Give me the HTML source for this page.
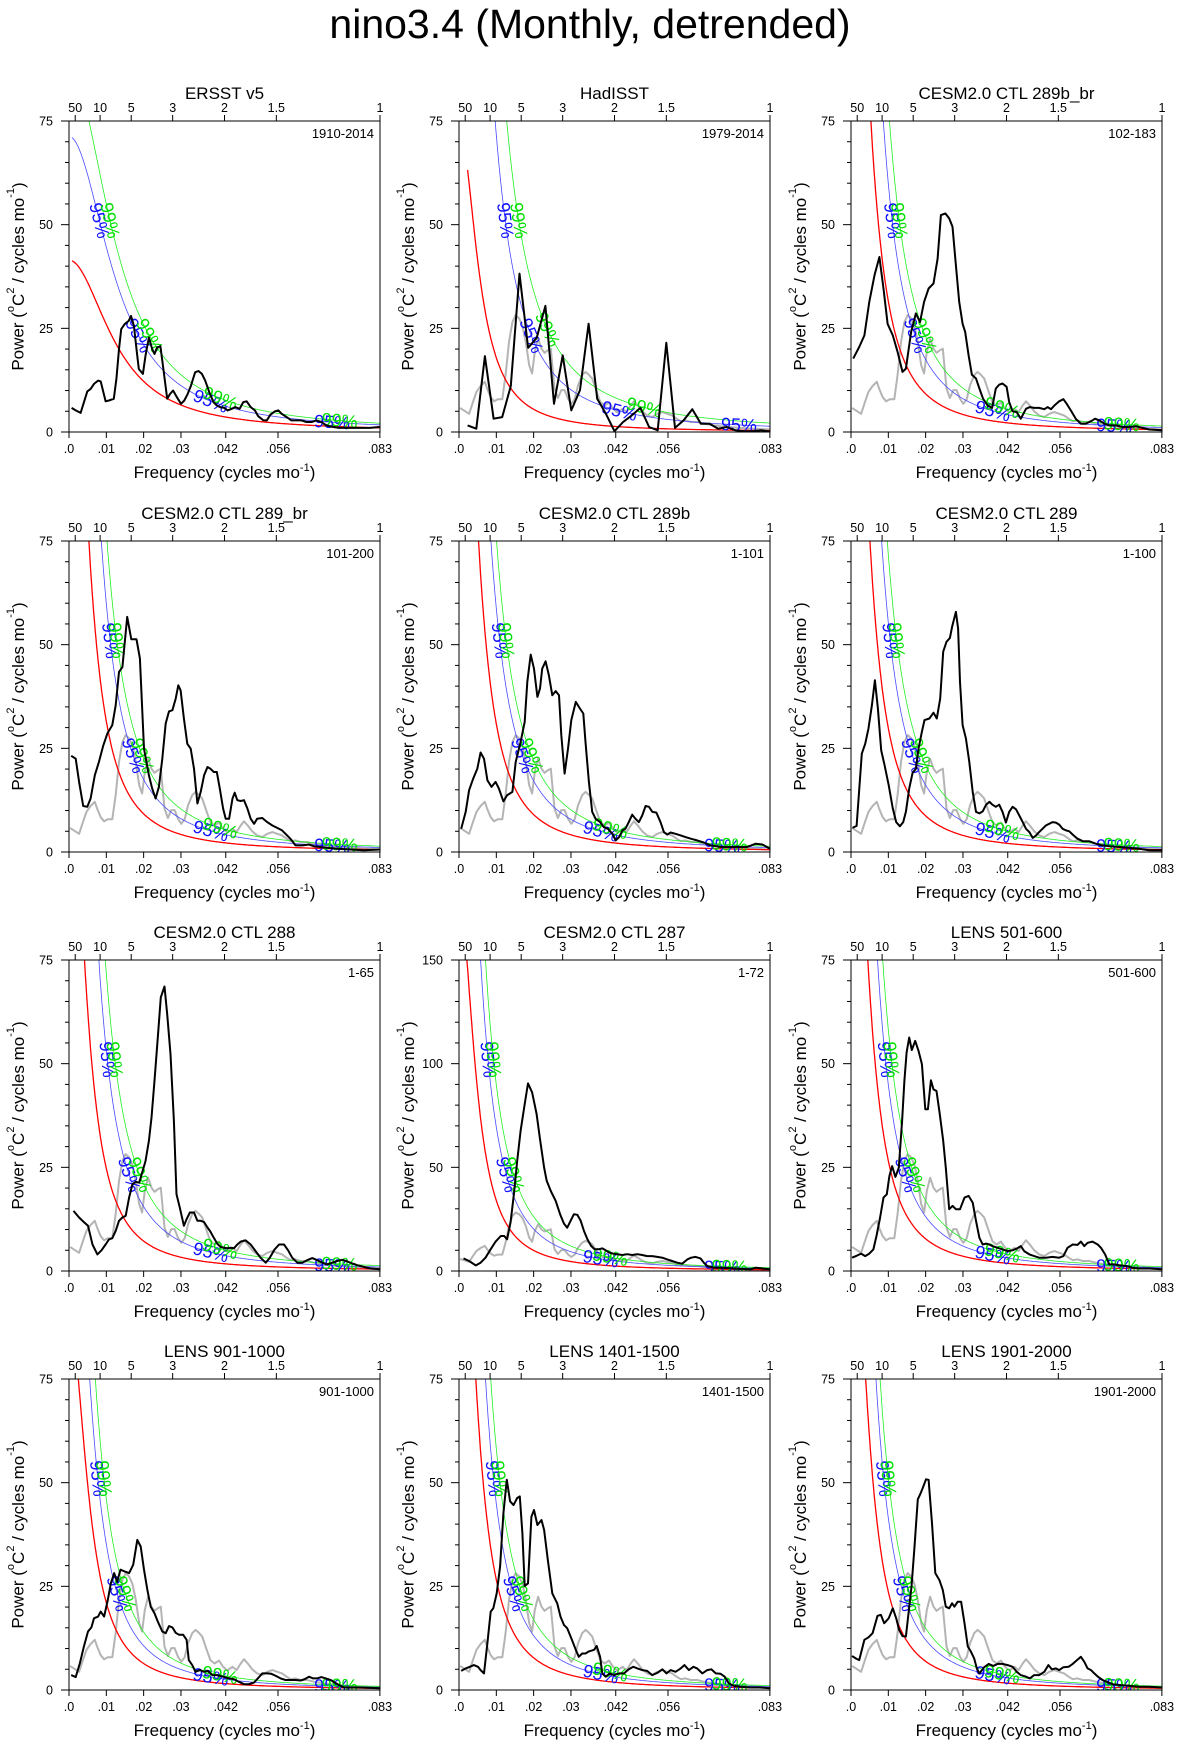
<!DOCTYPE html>
<html>
<head>
<meta charset="utf-8">
<style>
html,body{margin:0;padding:0;background:#fff;}
svg{display:block;}
text{font-family:"Liberation Sans",Arial,sans-serif;}
</style>
</head>
<body>
<svg id="fig" width="1181" height="1748" viewBox="0 0 1181 1748" xmlns="http://www.w3.org/2000/svg">
<text x="590" y="38" font-size="41" text-anchor="middle">nino3.4 (Monthly, detrended)</text>
</svg>
<script>
// ---------- data (frequency in 1e-3 cycles/mo, power in degC^2/(cycles/mo)) ----------
const panelTitles = ["ERSST v5","HadISST","CESM2.0 CTL 289b_br","CESM2.0 CTL 289_br","CESM2.0 CTL 289b","CESM2.0 CTL 289","CESM2.0 CTL 288","CESM2.0 CTL 287","LENS 501-600","LENS 901-1000","LENS 1401-1500","LENS 1901-2000"];
const panelPeriods = ["1910-2014","1979-2014","102-183","101-200","1-101","1-100","1-65","1-72","501-600","901-1000","1401-1500","1901-2000"];
const yMaxes = [75,75,75,75,75,75,75,150,75,75,75,75];
const redLag1 = [0.922,0.965,0.97,0.97,0.97,0.97,0.97,0.97,0.97,0.966,0.97,0.97];
const redAt0152 = [17.4,9.0,15.3,15.3,15.0,14.5,12.0,16.5,12.9,10.5,12.9,11.5];
const blueFactor = [1.72,4.0,1.9,1.9,1.9,1.85,2.15,2.04,1.69,1.67,1.69,1.75];
const greenFactor = [2.12,6.2,2.5,2.45,2.45,2.4,2.9,2.64,2.19,2.19,2.19,2.16];
const curveStart = [0.8,2.3,0.4,0.4,0.4,0.4,0.4,0.4,0.4,0.4,0.4,0.4];
const xTickValues = [0,0.01,0.02,0.03,0.042,0.056,0.0833];
const xTickLabels = [".0",".01",".02",".03",".042",".056",".083"];
const periodTicks = [50,10,5,3,2,1.5,1];
const periodLabels = ["50","10","5","3","2","1.5","1"];

const grayFreq = [0.3,1.3,2.7,3.8,4.7,5.8,6.9,7.6,8.5,9.4,10.4,11.6,12.5,13.4,14.3,15.2,16.1,17.0,17.9,18.8,19.6,20.3,21.2,22.1,22.9,23.8,24.6,25.6,26.5,27.4,28.3,29.2,30.1,31.0,31.9,33.0,33.9,34.8,35.7,36.9,37.9,39.0,40.2,41.3,42.4,43.8,44.9,46.0,46.9,47.9,49.1,50.4,51.8,53.1,54.5,55.8,57.1,58.3,59.4,60.7,62.1,63.8,65.6,68.3,71.9,75.4,79.0,83.3];
const grayPower = [5.8,5.2,4.4,7.4,9.7,11.1,12.1,10.3,8.4,7.4,7.9,7.9,13.8,21.7,26.5,28.2,27.4,25.6,21.7,16.1,14.1,19.3,22.5,20.1,19.1,19.7,20.1,10.5,8.2,10.1,10.1,8.0,6.8,7.9,11.3,13.7,14.5,13.8,12.9,9.7,7.2,6.4,7.1,5.6,4.7,5.6,4.8,6.4,7.4,6.4,5.0,4.0,3.6,4.4,4.8,4.4,4.0,3.2,2.6,2.8,2.4,2.4,2.0,1.6,1.2,1.0,0.8,0.6];

const p1Freq = [0.7,1.8,3.1,4.9,5.8,6.7,7.8,8.5,9.8,10.7,12.0,12.7,13.4,14.0,14.9,16.0,16.6,17.4,18.1,18.7,19.8,20.5,21.4,22.3,22.9,23.6,24.5,25.4,26.3,27.1,27.9,28.9,30.0,30.9,31.8,32.7,33.8,34.7,35.6,36.5,37.6,38.7,39.6,40.5,41.6,42.5,43.6,44.5,45.7,46.7,47.6,48.7,49.8,50.7,52.1,53.0,54.0,55.2,56.1,57.0,58.3,59.6,61.0,62.3,63.6,65.0,66.3,67.6,69.0,70.8,72.5,75.2,77.9,80.6,83.2];
const p1Power = [5.8,5.2,4.6,9.8,10.4,11.6,12.4,12.2,7.4,7.6,8.0,12.8,20.0,24.8,26.0,26.8,28.0,25.6,20.0,15.2,14.0,18.4,22.8,20.0,18.8,20.4,20.7,14.4,8.0,9.2,10.0,8.4,6.8,7.6,9.2,11.2,14.4,14.7,14.0,12.4,9.6,7.2,6.4,6.0,5.8,5.2,5.6,6.0,5.6,7.2,7.4,6.0,5.2,3.8,2.8,2.8,4.2,5.0,5.2,4.4,3.6,2.8,2.8,2.8,2.4,2.4,2.8,2.4,1.6,1.2,1.0,1.0,1.0,1.0,1.2];

const p2Freq = [2.31,4.63,6.94,9.26,11.57,13.89,16.20,18.52,20.83,23.15,25.46,27.78,30.09,32.41,34.72,37.04,39.35,41.67,43.98,46.30,48.61,50.93,53.24,55.56,57.87,60.19,62.50,64.81,67.13,69.44,71.76,74.07,76.39,78.70,81.02,83.33];
const p2Power = [1.6,0.8,18.3,3.2,3.6,11.1,38.2,20.3,22.7,30.4,6.8,18.5,5.2,10.1,26.1,8.0,4.4,0.2,2.4,4.0,5.8,1.2,0.4,21.5,1.0,2.8,5.5,2.0,2.0,0.8,1.2,0.4,0.2,0.2,0.4,0.1];

const p3Freq = [0.6,2.2,3.6,4.9,6.3,7.6,8.7,9.8,11.2,12.5,13.8,14.7,16.1,17.4,18.5,19.6,20.8,22.1,23.2,24.1,25.3,26.3,27.2,28.1,29.0,29.9,30.6,31.5,32.4,33.5,34.4,35.4,36.6,37.8,38.8,39.7,40.6,41.7,42.4,43.3,44.4,45.5,46.9,47.9,49.1,50.4,51.8,52.7,53.6,54.5,55.8,56.9,57.8,58.9,60.3,61.6,62.9,64.3,65.4,66.5,67.9,69.2,71.0,72.8,74.6,76.3,78.1,79.9,83.3];
const p3Power = [17.7,20.5,23.3,31.4,37.8,42.2,34.6,26.1,23.3,19.3,14.5,15.3,24.1,28.6,26.5,31.4,34.6,35.8,41.8,52.3,52.7,51.5,49.5,40.2,31.4,26.1,24.1,18.5,13.8,12.9,10.5,8.0,6.4,5.8,10.5,11.4,11.7,10.9,7.2,5.0,4.8,3.2,5.6,6.0,5.8,5.8,5.5,6.0,5.5,6.4,7.4,7.9,6.8,5.2,3.1,2.0,2.0,2.6,3.2,2.8,2.0,1.6,1.6,1.2,1.2,1.4,1.0,0.6,0.4];

const p4Freq = [0.6,1.8,2.7,3.8,4.9,5.8,6.9,8.0,9.2,10.3,11.6,12.5,13.4,14.3,15.6,16.7,18.1,19.0,20.1,21.4,22.3,23.2,24.1,25.0,25.9,26.8,27.7,28.6,29.3,29.9,30.8,31.7,32.6,33.5,34.4,35.3,36.2,37.1,37.9,38.8,39.6,40.4,41.3,42.0,42.9,43.8,44.4,45.1,46.0,46.9,47.8,48.7,49.6,50.4,51.8,53.1,54.5,55.8,57.1,58.0,59.4,60.7,62.5,64.3,65.6,67.4,69.2,71.9,75.4,79.0,83.3];
const p4Power = [23.2,22.5,16.9,11.1,10.9,12.9,18.5,21.7,25.7,28.6,30.6,35.4,43.4,44.6,56.7,51.3,51.3,46.7,24.9,18.5,15.3,12.9,15.7,22.5,31.0,33.9,34.2,37.0,40.2,39.0,32.2,26.1,24.9,20.1,11.7,14.5,18.5,20.5,20.1,19.3,19.3,15.3,10.5,8.0,8.0,12.9,14.3,12.5,12.3,12.5,10.5,8.0,6.8,8.0,8.2,7.2,6.4,5.8,5.2,4.4,3.1,1.6,1.6,1.8,1.4,1.2,1.0,0.8,0.6,0.4,0.6];

const p5Freq = [0.6,1.8,2.7,3.8,4.9,5.8,6.7,7.6,8.7,9.8,10.7,11.9,12.9,14.3,15.2,16.5,17.6,18.3,19.2,20.1,21.0,21.7,22.3,23.2,24.1,25.0,25.9,26.8,27.4,28.3,29.2,30.1,31.3,32.4,33.3,33.9,34.8,35.7,36.6,37.8,38.8,39.9,41.1,42.0,42.9,43.8,44.6,45.5,46.4,47.3,48.2,49.1,50.0,50.9,51.8,52.9,54.0,54.9,55.8,56.7,58.0,59.4,60.7,62.1,63.8,65.6,67.4,70.1,72.8,75.4,77.2,79.5,81.3,83.3];
const p5Power = [5.6,9.7,14.9,17.7,20.1,24.0,22.5,17.3,15.7,16.9,15.3,12.2,13.7,14.5,21.7,26.5,31.4,41.0,47.6,44.2,37.4,39.4,44.2,46.0,42.6,37.8,38.8,37.8,28.2,18.9,24.9,31.8,36.2,34.6,33.4,26.5,16.9,9.7,8.0,7.2,6.0,5.6,4.4,2.8,3.6,5.2,5.6,7.2,9.0,8.0,7.2,8.8,11.1,10.9,9.7,9.5,7.2,4.8,4.2,4.7,4.4,4.0,3.6,3.2,2.8,2.3,1.6,1.2,1.2,1.2,1.2,2.0,1.8,0.8];

const p6Freq = [0.4,1.5,2.9,3.8,4.7,5.6,6.4,7.2,8.1,9.0,10.1,11.2,12.1,13.1,14.0,14.7,15.6,16.5,17.4,18.1,19.0,19.7,21.0,22.1,23.0,23.9,24.7,25.6,26.5,27.1,28.1,28.7,29.2,29.9,30.8,31.7,32.6,33.5,34.4,35.3,36.2,37.1,37.9,38.8,39.7,40.6,41.5,42.4,43.3,44.2,45.1,46.0,46.9,47.8,48.7,49.6,50.4,51.3,52.2,53.1,54.0,54.9,55.8,56.7,57.6,58.5,59.4,60.7,62.1,63.8,65.6,67.4,69.2,71.9,74.6,77.2,79.9,83.3];
const p6Power = [5.8,6.3,23.7,26.1,29.8,35.4,41.4,34.6,24.5,20.9,16.1,10.5,7.2,6.2,7.2,9.7,15.3,19.1,20.1,24.9,29.0,31.8,32.2,33.6,32.2,37.0,48.3,50.7,51.6,54.3,57.9,53.9,41.0,30.6,27.4,21.7,14.5,9.7,9.3,9.8,11.4,12.1,11.4,10.9,11.4,9.7,7.1,9.7,10.9,10.3,8.8,7.2,5.6,4.8,3.4,4.0,4.8,5.6,6.4,6.8,7.2,7.1,6.6,5.6,5.2,5.0,4.2,3.2,2.6,2.6,2.0,1.6,1.4,1.2,1.0,0.8,0.4,0.4];

const p7Freq = [1.2,2.7,4.0,5.1,6.3,7.6,8.7,9.8,10.7,11.6,12.5,13.4,14.3,15.2,16.1,17.0,17.9,18.8,19.6,20.5,21.4,22.1,22.9,23.8,24.6,25.6,26.3,27.2,28.1,28.8,29.7,30.8,31.5,32.4,33.5,34.4,35.3,36.2,37.1,37.9,38.8,39.7,40.6,41.5,42.4,43.3,44.2,45.1,46.0,47.3,48.7,50.0,51.3,52.7,53.8,55.1,56.3,57.6,58.7,59.8,61.2,62.5,63.8,65.2,66.5,67.9,69.2,70.5,71.9,73.2,74.6,75.9,77.2,79.0,80.8,83.3];
const p7Power = [14.5,12.9,11.8,10.9,6.4,4.0,5.0,6.4,7.6,7.9,9.7,12.1,12.9,13.3,17.7,20.9,21.5,21.3,23.7,26.5,31.4,37.0,45.9,56.3,66.0,68.6,61.9,52.3,36.2,18.5,15.3,10.9,12.5,14.1,14.1,12.1,12.1,11.8,10.5,9.5,8.0,6.6,5.8,5.6,5.5,5.6,5.5,6.4,7.1,7.4,6.4,4.8,3.2,2.0,3.2,5.2,6.4,6.4,5.0,3.2,2.0,2.0,2.6,3.1,2.6,2.0,1.6,2.0,2.4,2.7,2.3,1.8,1.4,1.0,0.6,0.4];

const p8Freq = [1.2,2.7,4.5,5.8,7.1,8.5,9.8,11.2,12.1,12.9,13.8,14.7,15.6,16.5,17.6,18.5,19.6,20.8,21.7,22.8,23.5,24.6,25.9,27.1,28.1,29.0,29.9,30.8,31.7,32.6,33.5,34.4,35.4,36.3,37.5,38.4,39.3,40.2,41.3,42.4,43.8,45.1,46.4,47.8,49.1,50.4,51.8,53.1,54.5,55.8,57.1,58.5,59.8,61.2,62.2,63.4,64.7,65.6,66.5,68.3,70.1,72.8,75.4,78.1,79.5,80.8,83.3];
const p8Power = [6.1,4.8,2.7,4.0,6.4,10.5,14.2,16.9,16.9,15.3,23.3,37.0,53.1,67.6,80.5,90.5,86.2,75.7,63.6,49.9,43.5,38.6,33.8,27.4,22.9,20.9,24.2,27.4,27.1,24.2,19.3,15.3,12.1,10.5,10.5,10.9,10.0,8.9,8.4,8.1,7.7,8.1,7.7,8.1,7.7,7.2,7.2,6.8,6.4,5.6,4.8,4.0,3.5,5.6,6.4,6.8,6.1,4.0,2.4,1.6,1.6,1.3,1.0,0.8,1.6,1.3,0.8];

const p9Freq = [0.3,1.3,2.7,3.8,4.9,6.0,6.9,7.8,8.7,9.6,10.3,11.0,11.9,12.8,13.7,14.3,14.9,15.6,16.3,17.2,18.1,19.0,19.9,20.6,21.4,22.1,22.9,23.8,24.7,25.4,26.3,27.2,28.1,29.2,30.4,31.5,32.6,33.5,34.4,35.3,36.2,37.1,37.9,39.3,40.6,42.0,43.3,44.4,45.5,46.4,47.8,49.1,50.4,52.2,54.0,55.8,56.9,58.0,59.4,60.7,61.6,62.5,63.4,64.7,66.1,67.0,68.1,69.2,70.5,71.9,73.7,75.4,77.2,79.9,83.3];
const p9Power = [3.2,3.6,4.2,3.6,4.2,5.2,8.8,12.9,17.7,18.5,22.9,25.3,22.7,24.9,36.2,45.9,52.7,56.3,53.3,55.5,53.1,49.9,39.0,39.0,46.0,43.8,43.4,37.8,31.4,24.9,14.9,15.7,14.9,14.9,17.7,18.1,16.5,12.1,8.0,6.4,6.6,6.4,6.0,5.6,5.2,4.8,5.0,5.4,6.0,4.8,4.0,3.6,3.2,3.2,3.4,3.2,3.6,5.6,6.4,6.3,7.1,6.0,6.8,7.1,6.4,5.6,4.0,1.6,1.6,1.4,1.2,0.8,0.6,0.6,0.4];

const p10Freq = [0.6,1.8,2.9,4.0,5.1,6.0,6.7,7.8,8.5,9.4,10.4,11.2,12.1,12.9,13.8,14.9,16.1,17.2,18.3,19.2,20.1,21.0,21.9,22.9,23.8,25.0,25.9,26.8,27.7,28.6,29.5,30.6,31.5,32.1,33.0,33.9,35.1,36.2,37.2,38.4,39.7,41.3,42.9,44.2,45.5,46.9,48.2,49.6,50.6,51.8,53.1,54.2,55.4,56.7,58.0,59.4,60.7,62.1,63.1,64.3,65.4,66.5,67.6,68.8,70.1,71.2,72.3,73.7,75.4,78.1,80.8,83.3];
const p10Power = [3.6,3.1,6.4,10.5,14.1,15.1,17.3,17.7,18.9,17.7,21.7,25.7,28.2,26.1,29.0,28.6,28.2,30.2,36.2,34.6,29.0,24.1,20.1,18.5,16.5,14.1,13.7,15.4,15.1,13.8,13.3,13.3,12.1,7.2,6.0,4.4,4.8,4.4,4.6,3.6,3.6,3.2,2.8,2.6,2.0,1.4,1.4,1.8,2.8,4.0,4.0,3.9,3.4,2.8,2.4,2.4,2.4,2.3,2.6,3.2,2.8,2.8,3.1,2.8,2.4,1.8,1.2,0.6,0.6,0.6,0.5,0.4];

const p11Freq = [0.6,1.8,2.9,4.0,5.1,5.8,6.7,7.6,8.5,9.2,10.1,11.0,11.9,12.8,13.7,14.6,15.6,16.3,17.0,17.6,18.5,19.4,20.1,21.0,22.1,22.8,23.8,25.0,26.3,27.2,28.1,29.0,30.1,31.3,32.1,33.0,33.9,34.8,36.2,36.9,37.8,38.4,39.3,40.4,41.5,42.9,44.2,45.5,46.7,47.8,49.1,50.4,51.8,53.3,54.5,55.6,56.7,58.0,59.4,60.4,61.6,62.8,63.8,65.2,66.5,67.6,68.8,70.1,71.2,72.3,73.7,75.4,78.1,80.8,83.3];
const p11Power = [4.6,5.2,5.6,6.0,5.6,4.8,4.0,11.3,18.9,19.7,23.3,29.8,42.6,50.7,45.5,44.6,46.3,46.7,37.8,25.1,25.7,41.8,43.4,39.8,41.0,38.6,31.4,23.3,20.9,17.7,15.7,14.9,12.5,9.7,8.0,8.8,8.8,9.3,9.7,10.6,8.0,4.0,3.2,4.0,3.6,4.0,4.0,5.0,5.6,5.2,4.8,4.6,3.6,4.2,5.0,4.0,4.8,4.4,5.2,6.0,4.8,5.6,5.2,4.0,4.8,5.0,4.0,3.9,3.2,1.6,1.0,0.8,0.6,0.6,0.4];

const p12Freq = [0.3,1.3,2.2,3.6,4.7,5.8,7.1,8.0,8.9,10.1,11.2,12.1,12.9,13.8,14.7,15.4,16.2,17.0,17.9,18.5,19.2,20.1,20.8,21.7,22.6,23.7,24.6,25.4,26.3,27.1,27.7,28.6,29.5,30.4,31.3,32.1,33.0,33.7,34.4,35.7,36.9,38.1,39.3,40.6,42.0,43.3,44.4,45.5,46.9,47.9,49.1,50.4,51.8,52.9,53.8,54.9,55.8,56.9,58.3,59.4,60.4,61.6,62.5,63.4,64.3,65.2,66.3,67.4,68.5,70.1,71.9,74.6,77.2,79.9,83.3];
const p12Power = [8.2,7.6,7.2,12.1,12.7,13.7,17.9,18.1,16.1,17.3,19.7,17.3,14.5,13.0,12.9,18.5,24.9,34.2,46.0,47.1,48.7,50.8,50.7,40.2,28.2,26.5,24.1,20.1,19.7,20.9,20.1,21.3,21.3,16.1,10.5,9.3,7.6,5.2,4.0,5.5,6.3,5.8,6.3,6.3,6.0,5.6,4.4,3.6,3.2,2.8,3.6,3.6,4.4,6.0,5.0,5.2,4.8,5.5,5.6,6.3,7.1,8.0,6.8,5.2,4.8,4.0,3.1,2.4,2.0,1.4,1.2,1.0,0.8,0.8,0.6];

const blackFreqs = [p1Freq,p2Freq,p3Freq,p4Freq,p5Freq,p6Freq,p7Freq,p8Freq,p9Freq,p10Freq,p11Freq,p12Freq];
const blackPowers = [p1Power,p2Power,p3Power,p4Power,p5Power,p6Power,p7Power,p8Power,p9Power,p10Power,p11Power,p12Power];

// ---------- layout ----------
const NS = "http://www.w3.org/2000/svg";
const svg = document.getElementById("fig");
const colLeft = [69, 459, 851];
const rowTop = [121, 541, 960, 1379];
const W = 311, H = 311, FMAX = 1/12;

function mk(tag, attrs, parent) {
  const el = document.createElementNS(NS, tag);
  for (const k in attrs) el.setAttribute(k, attrs[k]);
  (parent || svg).appendChild(el);
  return el;
}
function redSpec(f, r, C) { return C * (1 - r*r) / (1 + r*r - 2*r*Math.cos(2*Math.PI*f)); }

for (let p = 0; p < 12; p++) {
  const L = colLeft[p % 3], T = rowTop[Math.floor(p / 3)];
  const ymax = yMaxes[p];
  const X = f => L + f / FMAX * W;
  const Y = v => T + H - v / ymax * H;

  const g = mk("g", {});
  
  

  const clip = mk("clipPath", {id: "clip" + p}, g);
  mk("rect", {x: L, y: T, width: W, height: H}, clip);

  const tt = mk("text", {x: L + W/2, y: T - 22, "font-size": 17, "text-anchor": "middle"}, g);
  tt.textContent = panelTitles[p];
  
  

  const per = mk("text", {x: L + W - 6, y: T + 17, "font-size": 13, "text-anchor": "end"}, g);
  per.textContent = panelPeriods[p];
  
  

  for (let i = 0; i < xTickValues.length; i++) {
    const x = X(xTickValues[i]);
    mk("line", {x1: x, x2: x, y1: T + H, y2: T + H + 6, stroke: "#000", "stroke-width": 1}, g);
    const t = mk("text", {x: x, y: T + H + 21, "font-size": 12.5, "text-anchor": "middle"}, g);
    t.textContent = xTickLabels[i];
    
    
  }
  for (let i = 0; i < periodTicks.length; i++) {
    const x = X(1 / (12 * periodTicks[i]));
    mk("line", {x1: x, x2: x, y1: T, y2: T - 6, stroke: "#000", "stroke-width": 1}, g);
    const t = mk("text", {x: x, y: T - 9, "font-size": 12.5, "text-anchor": "middle"}, g);
    t.textContent = periodLabels[i];
    
    
  }
  const minorStep = ymax / 15, majorStep = ymax / 3;
  for (let v = 0; v <= ymax + 1e-9; v += minorStep) {
    const isMajor = Math.abs(v / majorStep - Math.round(v / majorStep)) < 1e-6;
    const y = Y(v);
    mk("line", {x1: L, x2: L - (isMajor ? 8 : 4), y1: y, y2: y, stroke: "#000", "stroke-width": 1}, g);
    if (isMajor) {
      const t = mk("text", {x: L - 16, y: y + 4.5, "font-size": 12.5, "text-anchor": "end"}, g);
      t.textContent = String(Math.round(v));
      
      
    }
  }

  const xt = mk("text", {x: L + W/2, y: T + H + 46, "font-size": 17, "text-anchor": "middle"}, g);
  xt.innerHTML = 'Frequency (cycles mo<tspan dy="-7" font-size="11">-1</tspan><tspan dy="7">)</tspan>';
  
  
  const cy = T + H/2, cx = L - 51;
  const yt = mk("text", {x: cx, y: cy, "font-size": 17, "text-anchor": "middle", "dominant-baseline": "central", transform: "rotate(-90 " + cx + " " + cy + ")"}, g);
  yt.innerHTML = 'Power (<tspan dy="-7" font-size="11">o</tspan><tspan dy="7">C</tspan><tspan dy="-7" font-size="11">2</tspan><tspan dy="7"> / cycles mo</tspan><tspan dy="-7" font-size="11">-1</tspan><tspan dy="7">)</tspan>';
  
  

  const plot = mk("g", {"clip-path": "url(#clip" + p + ")"}, g);

  if (p > 0) {
    let d = "";
    const n = Math.min(grayFreq.length, grayPower.length);
    for (let i = 0; i < n; i++) d += (i ? "L" : "M") + X(grayFreq[i]/1000).toFixed(1) + "," + Y(grayPower[i]).toFixed(1);
    const gl = mk("path", {d: d, fill: "none", stroke: "#b4b4b4", "stroke-width": 2, "stroke-linejoin": "round"}, plot);
    
    
  }

  const r = redLag1[p];
  const C = redAt0152[p] * (1 + r*r - 2*r*Math.cos(2*Math.PI*0.0152)) / (1 - r*r);
  const curves = [
    {fac: 1, color: "#ff0000", w: 1.3, name: "red-noise-curve"},
    {fac: blueFactor[p], color: "#4a4aff", w: 0.8, name: "confidence-95-curve"},
    {fac: greenFactor[p], color: "#22ee22", w: 0.8, name: "confidence-99-curve"}
  ];
  const f0 = curveStart[p] / 1000;
  curves.forEach(c => {
    let d = "";
    for (let f = f0, i = 0; f <= FMAX + 1e-9; f += 0.0002, i++) {
      const v = Math.min(redSpec(f, r, C) * c.fac, ymax * 3);
      d += (i ? "L" : "M") + X(f).toFixed(1) + "," + Y(v).toFixed(1);
    }
    const el = mk("path", {d: d, fill: "none", stroke: c.color, "stroke-width": c.w}, plot);
    
    
  });

  function solveF(fac, target) {
    let a = f0, b = FMAX;
    for (let k = 0; k < 60; k++) {
      const m = (a + b) / 2;
      if (redSpec(m, r, C) * fac > target) a = m; else b = m;
    }
    return (a + b) / 2;
  }
  const labelSpecs = [
    {fac: blueFactor[p], color: "#1010ff", txt: "95%", pos: [["v", 0.68], ["v", 0.31], ["f", p === 1 ? 0.043 : 0.038], ["f", p === 1 ? 0.075 : 0.0705]]},
    {fac: greenFactor[p], color: "#00e000", txt: "99%", pos: p === 1 ? [["v", 0.68], ["v", 0.33], ["f", 0.0496]] : [["v", 0.68], ["v", 0.31], ["f", 0.0405], ["f", 0.0725]]}
  ];
  labelSpecs.forEach(ls => {
    ls.pos.forEach(ps => {
      const f = ps[0] === "v" ? solveF(ls.fac, ps[1] * ymax) : ps[1];
      const h = 0.0003;
      const x = X(f), y = Y(redSpec(f, r, C) * ls.fac);
      const dx = X(f + h) - X(f - h);
      const dy = Y(redSpec(f + h, r, C) * ls.fac) - Y(redSpec(f - h, r, C) * ls.fac);
      const ang = Math.atan2(dy, dx) * 180 / Math.PI;
      const t = mk("text", {x: x, y: y, "font-size": 18, fill: ls.color, "text-anchor": "middle", "dominant-baseline": "central", transform: "rotate(" + ang.toFixed(1) + " " + x.toFixed(1) + " " + y.toFixed(1) + ")"}, plot);
      t.textContent = ls.txt;
      
      
    });
  });

  {
    const fr = blackFreqs[p], pw = blackPowers[p];
    const n = Math.min(fr.length, pw.length);
    let d = "";
    for (let i = 0; i < n; i++) d += (i ? "L" : "M") + X(fr[i]/1000).toFixed(1) + "," + Y(pw[i]).toFixed(1);
    const bl = mk("path", {d: d, fill: "none", stroke: "#000", "stroke-width": 2, "stroke-linejoin": "round"}, plot);
    
    
  }

  const fr = mk("rect", {x: L, y: T, width: W, height: H, fill: "none", stroke: "#000", "stroke-width": 1}, g);
  
  
}
</script>
</body>
</html>
